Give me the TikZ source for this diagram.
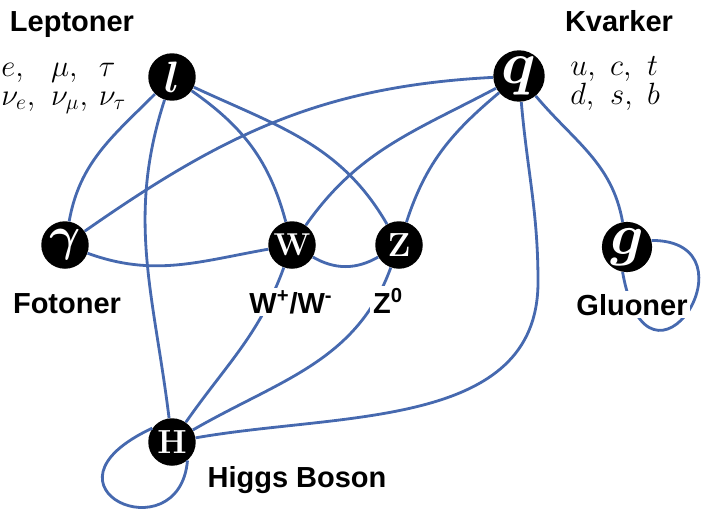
\RequirePackage{fix-cm}
\documentclass[tikz,border=0pt]{standalone}
\usepackage{amsmath,amssymb}
\usepackage{fontspec}
\newfontfamily\labelfont{Liberation Sans}
\usepackage{tikz}
\usetikzlibrary{positioning}
\definecolor{linkblue}{RGB}{70,105,175}

\begin{document}
\begin{tikzpicture}[x=0.02cm, y=0.02cm,
    particle/.style={circle, fill=black, text=white, minimum size=0.95cm, inner sep=0pt},
    link/.style={draw=linkblue, line width=1.6pt},
    grouplabel/.style={font=\labelfont\bfseries\fontsize{16.5}{18}\selectfont, anchor=base, inner sep=1.5pt},
    members/.style={font=\fontsize{17.5}{20}\selectfont, anchor=base west, inner sep=0pt}]

    \useasboundingbox (0,0) rectangle (705,512);

    % Particles
    \node[particle, font=\fontsize{25}{25}\selectfont] (l) at (172,435) {$\boldsymbol{l}$};
    \node[particle, font=\fontsize{34}{34}\selectfont] (q) at (519,436) {$\boldsymbol{q}$};
    \node[particle, font=\fontsize{27}{27}\selectfont] (gam) at (65,267) {$\boldsymbol{\gamma}$};
    \node[particle, font=\fontsize{18}{18}\selectfont\bfseries] (W) at (292,267) {W};
    \node[particle, font=\fontsize{19}{19}\selectfont\bfseries] (Z) at (399,267) {Z};
    \node[particle, font=\fontsize{19}{19}\selectfont\bfseries] (H) at (172,70) {H};
    \node[particle, font=\fontsize{33}{33}\selectfont] (g) at (627,265) {$\boldsymbol{g}$};

    \coordinate (qh) at (538,230);

    % Lepton links
    \draw[link] (l) to[out=225, in=80] (gam);
    \draw[link] (l) to[out=252, in=97] (H);
    \draw[link] (l) to[out=-35, in=105] (W);
    \draw[link] (l) to[out=-25, in=120] (Z);

    % Quark links
    \draw[link] (q) to[out=183, in=35] (gam);
    \draw[link] (q) to[out=208, in=55] (W);
    \draw[link] (q) to[out=220, in=72] (Z);
    \draw[link] (q) to[out=-50, in=100] (g);
    \draw[link] (q) to[out=-85, in=90] (qh) to[out=-90, in=10] (H);

    % Boson links
    \draw[link] (gam) to[out=-20, in=190] (W);
    \draw[link] (W) to[out=-30, in=210] (Z);
    \draw[link] (W) to[out=250, in=55] (H);
    \draw[link] (Z) to[out=250, in=30] (H);

    % Self loops
    \draw[link] (g.15) .. controls +(0:110) and +(-80:150) .. (g.-100);
    \draw[link] (H.145) .. controls +(205:140) and +(-95:95) .. (H.-50);

    % Group labels
    \node[grouplabel] (leptoner) at (72,481) {Leptoner};
    \node[grouplabel] (kvarker) at (619,481) {Kvarker};
    \node[grouplabel, fill=white] (fotoner) at (67,199) {Fotoner};
    \node[grouplabel, fill=white] (wlabel) at (291,199) {W\textsuperscript{+}/W\textsuperscript{-}};
    \node[grouplabel, fill=white] (zlabel) at (388,199) {Z\textsuperscript{0}};
    \node[grouplabel, fill=white] (gluoner) at (632,197) {Gluoner};
    \node[grouplabel] (higgs) at (297,25) {Higgs Boson};

    % Members
    \node[members] (leptons1) at (1,436)
        {\makebox[28.3pt][l]{$e,$}\makebox[27.2pt][l]{$\mu,$}$\tau$};
    \node[members] (leptons2) at (1,407)
        {\makebox[28.3pt][l]{$\nu_e,$}\makebox[27.2pt][l]{$\nu_\mu,$}$\nu_\tau$};
    \node[members] (quarks1) at (570,437)
        {\makebox[22.7pt][l]{$u,$}\makebox[21pt][l]{$c,$}$t$};
    \node[members] (quarks2) at (570,408)
        {\makebox[22.7pt][l]{$d,$}\makebox[21pt][l]{$s,$}$b$};

\end{tikzpicture}
\end{document}
